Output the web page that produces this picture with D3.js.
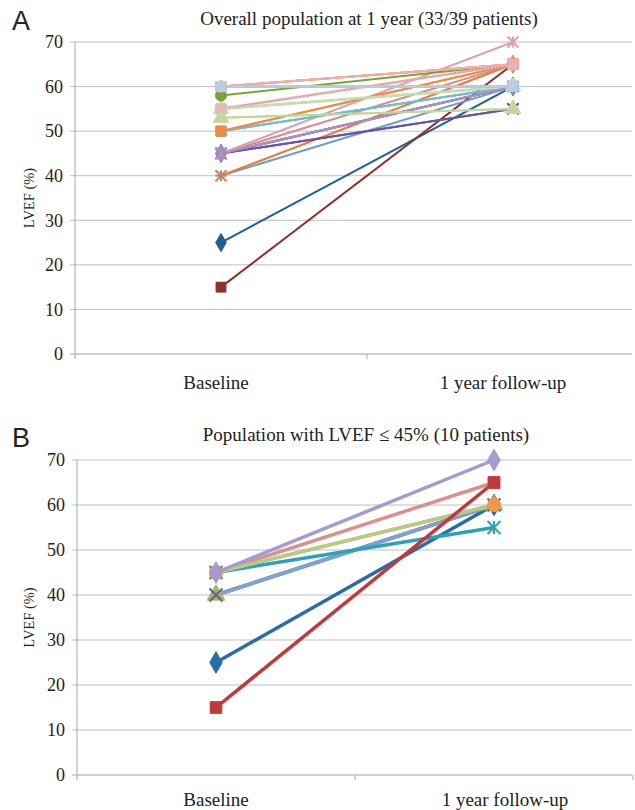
<!DOCTYPE html>
<html>
<head>
<meta charset="utf-8">
<script src="https://cdn.jsdelivr.net/npm/d3@7"></script>
<style>
  body { margin: 0; background: #fff; }
  svg { display: block; }
</style>
</head>
<body>
<div id="chart"></div>
<script>
// LVEF baseline vs 1 year, two panels

const categories = ['Baseline', '1 year follow-up'];
const yTicks = [0, 10, 20, 30, 40, 50, 60, 70];

// Panel A: overall population (33 patients), in drawing order
const baselineA = [25, 15, 40, 40, 45, 45, 45, 45, 45, 45, 45, 45, 50, 50, 50, 50, 53,
                   55, 55, 55, 55, 58, 60, 60, 60, 60, 60, 45, 60, 55, 60, 60, 53];
const followA   = [60, 65, 60, 65, 55, 60, 60, 60, 65, 60, 55, 70, 60, 65, 60, 65, 55,
                   60, 65, 60, 60, 65, 65, 60, 65, 60, 65, 60, 60, 65, 65, 60, 55];
const colorsA   = ['#1f5f96', '#8c2f2f', '#6f9bd3', '#e97a3c', '#5c4a8e', '#7e6bb0', '#8064a2', '#9983b5',
                   '#d98a8a', '#7e95c8', '#6a56a0', '#dba3a8', '#4bacc6', '#f79646', '#6fbdd1', '#f08a3e',
                   '#c3d69b', '#c4d79b', '#d99694', '#93cddd', '#c9deb0', '#77a33a', '#f9ab6b', '#a6c3e6',
                   '#fabf8f', '#8db3e2', '#f4894a', '#b08fc0', '#9dc3e6', '#e6b9b8', '#e8b2b8', '#b9cde5', '#c4d79b'];
const markersA  = ['diamond', 'square', 'plus', 'x', 'x', 'x', 'diamond', 'x',
                   'diamond', 'diamond', 'x', 'star', 'square', 'square', 'square', 'square',
                   'triangle', 'triangle', 'square', 'square', 'triangle', 'circle', 'circle', 'square',
                   'circle', 'square', 'circle', 'star', 'square', 'square', 'square', 'square', 'triangle'];
const dashedA   = [17, 29];

// Panel B: LVEF <= 45% (10 patients), in drawing order
const baselineB = [25, 45, 40, 40, 40, 45, 45, 45, 45, 15];
const followB   = [60, 65, 60, 60, 60, 55, 60, 60, 70, 65];
const colorsB   = ['#2a6ca8', '#db9090', '#9bbb59', '#6e5a9e', '#7ea3d3', '#2aa3b8', '#f79646', '#b5cc88', '#a59bd0', '#c0393b'];
const markersB  = ['diamond', 'square', 'triangle', 'x', 'none', 'star', 'circle', 'none', 'diamond', 'square'];
const dashedB   = [];

const width = 635, height = 810;
const serif = '"Liberation Serif", "Times New Roman", serif';
const sans = '"Liberation Sans", Arial, sans-serif';

const svg = d3.select('#chart').append('svg')
    .attr('width', width)
    .attr('height', height);

// custom stroke symbols
function markerPath(type, s) {
    const h = s / 2;
    if (type === 'x') return `M${-h},${-h}L${h},${h}M${-h},${h}L${h},${-h}`;
    if (type === 'plus') return `M${-h},0L${h},0M0,${-h}L0,${h}`;
    if (type === 'star') return `M${-h},${-h}L${h},${h}M${-h},${h}L${h},${-h}M0,${-h}L0,${h}`;
    const sym = { diamond: d3.symbolDiamond, square: d3.symbolSquare, triangle: d3.symbolTriangle, circle: d3.symbolCircle }[type];
    return d3.symbol().type(sym).size(s * s * 0.8)();
}

function drawPanel(cfg) {
    const g = svg.append('g');
    const y = d3.scaleLinear().domain([0, 70]).range([cfg.y0, cfg.y70]);
    const x = d3.scaleBand().domain(categories).range([cfg.xLeft, cfg.xRight]);
    const gridRight = Math.min(cfg.xRight, 632);

    // gridlines
    g.selectAll('.grid').data(yTicks.filter(t => t > 0)).join('line')
        .attr('x1', cfg.xLeft - 5).attr('x2', gridRight)
        .attr('y1', d => y(d)).attr('y2', d => y(d))
        .attr('stroke', '#bfbfbf').attr('stroke-width', 1);

    // axis lines
    g.append('line')
        .attr('x1', cfg.xLeft).attr('x2', cfg.xLeft)
        .attr('y1', y(0)).attr('y2', y(70))
        .attr('stroke', '#a6a6a6');
    g.append('line')
        .attr('x1', cfg.xLeft - 5).attr('x2', gridRight)
        .attr('y1', y(0)).attr('y2', y(0))
        .attr('stroke', '#a6a6a6');
    const tickXs = [cfg.xLeft, cfg.xLeft + x.bandwidth(), cfg.xRight].filter(v => v <= 634);
    g.selectAll('.xt').data(tickXs).join('line')
        .attr('x1', d => d).attr('x2', d => d)
        .attr('y1', y(0)).attr('y2', y(0) + 5)
        .attr('stroke', '#a6a6a6');

    // y tick labels
    g.selectAll('.yl').data(yTicks).join('text')
        .attr('x', cfg.xLeft - 12)
        .attr('y', d => y(d))
        .attr('dy', '0.35em')
        .attr('text-anchor', 'end')
        .attr('font-family', serif)
        .attr('font-size', 18)
        .attr('fill', '#222')
        .text(d => d);

    // category labels
    g.selectAll('.xl').data(categories).join('text')
        .attr('x', (d, i) => x(d) + x.bandwidth() / 2 + cfg.labelShift[i])
        .attr('y', cfg.labelY)
        .attr('text-anchor', 'middle')
        .attr('font-family', serif)
        .attr('font-size', 19)
        .attr('fill', '#222')
        .text(d => d);

    // y axis title
    g.append('text')
        .attr('transform', `translate(${cfg.yTitleX},${(y(0) + y(70)) / 2}) rotate(-90)`)
        .attr('text-anchor', 'middle')
        .attr('font-family', serif)
        .attr('font-size', 14.5)
        .attr('fill', '#222')
        .text('LVEF (%)');

    // chart title
    g.append('text')
        .attr('x', cfg.titleX).attr('y', cfg.titleY)
        .attr('text-anchor', 'middle')
        .attr('font-family', serif)
        .attr('font-size', 19)
        .attr('fill', '#222')
        .text(cfg.title);

    // panel letter
    g.append('text')
        .attr('x', 12).attr('y', cfg.letterY)
        .attr('font-family', sans)
        .attr('font-size', 27)
        .attr('fill', '#222')
        .text(cfg.letter);

    // series: lines, then markers on top
    const cx = d => x(d) + x.bandwidth() / 2;
    const lines = g.append('g');
    const marks = g.append('g');
    cfg.base.forEach((b, i) => {
        const vals = [b, cfg.follow[i]];
        const col = cfg.colors[i];
        const dashed = cfg.dashed.includes(i);
        lines.append('line')
            .attr('x1', cx(categories[0])).attr('y1', y(vals[0]))
            .attr('x2', cx(categories[1])).attr('y2', y(vals[1]))
            .attr('stroke', col)
            .attr('stroke-width', dashed ? cfg.lineWidth + 1 : cfg.lineWidth)
            .attr('stroke-dasharray', dashed ? '2,1.5' : null);
        if (cfg.markers[i] === 'none') return;
        const stroked = ['x', 'plus', 'star'].includes(cfg.markers[i]);
        vals.forEach((v, k) => {
            marks.append('path')
                .attr('transform', `translate(${cx(categories[k])},${y(v)})`)
                .attr('d', markerPath(cfg.markers[i], cfg.markerSize))
                .attr('fill', stroked ? 'none' : col)
                .attr('stroke', col)
                .attr('stroke-width', stroked ? 2 : 1);
        });
    });
}

drawPanel({
    letter: 'A', letterY: 30,
    title: 'Overall population at 1 year (33/39 patients)', titleX: 369, titleY: 25,
    y0: 354, y70: 42, xLeft: 75, xRight: 659,
    labelY: 389, labelShift: [-5, -10], yTitleX: 34,
    base: baselineA, follow: followA, colors: colorsA, markers: markersA, dashed: dashedA,
    lineWidth: 2, markerSize: 11
});

drawPanel({
    letter: 'B', letterY: 447,
    title: 'Population with LVEF \u2264 45% (10 patients)', titleX: 366, titleY: 441,
    y0: 775, y70: 460, xLeft: 77, xRight: 633,
    labelY: 806, labelShift: [0, 11], yTitleX: 34,
    base: baselineB, follow: followB, colors: colorsB, markers: markersB, dashed: dashedB,
    lineWidth: 3.5, markerSize: 13
});
</script>
</body>
</html>
